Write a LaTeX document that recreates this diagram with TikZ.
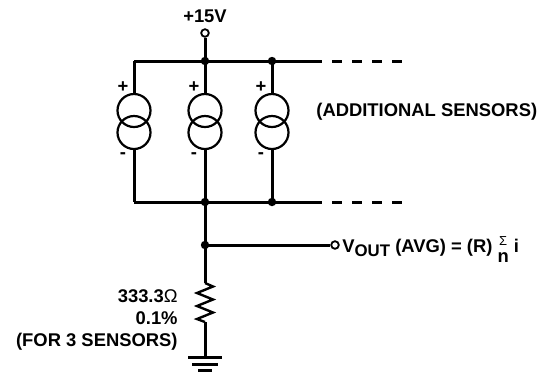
\documentclass[tikz,border=0pt]{standalone}
\usepackage{fontspec}
\setmainfont{Liberation Sans}
\usetikzlibrary{positioning}
\tikzset{>=stealth}
\tikzset{
	wire/.style={line width=1.5pt},
	srcring/.style={circle, draw, line width=1.1pt, minimum size=16.5pt, inner sep=0pt},
	term/.style={circle, draw, line width=0.9pt, fill=white, minimum size=3.8pt, inner sep=0pt},
	junc/.style={circle, fill, minimum size=4.2pt, inner sep=0pt},
	lbl/.style={font=\fontsize{9.2}{10.8}\selectfont\bfseries, inner sep=0pt}
}

\begin{document}
\begin{tikzpicture}[x=0.5pt,y=-0.5pt]
	\useasboundingbox (0,0) rectangle (547,372);
	% supply and busses
	\node[term] (vcc) at (205,33) {};
	\node[lbl] (vcclbl) at (205,16) {+15V};
	\coordinate (t1) at (134,61); \coordinate (t2) at (205,61); \coordinate (t3) at (272,61);
	\coordinate (b1) at (134,202); \coordinate (b2) at (205,202); \coordinate (b3) at (272,202);
	\coordinate (tend) at (322,61); \coordinate (tdash) at (402,61);
	\coordinate (bend) at (322,202); \coordinate (bdash) at (402,202);
	\draw[wire] (vcc) -- (t2);
	\draw[wire] (t1) -- (tend);
	\draw[wire] (b1) -- (bend);
	\draw[wire, dash pattern=on 5pt off 5pt, dash phase=5pt] (tend) -- (tdash);
	\draw[wire, dash pattern=on 5pt off 5pt, dash phase=5pt] (bend) -- (bdash);
	% current sources
	\foreach \n/\x in {1/134,2/205,3/272} {
		\node[srcring] (s\n a) at (\x,110.5) {};
		\node[srcring] (s\n b) at (\x,132.5) {};
		\draw[wire] (t\n) -- (s\n a.north);
		\draw[wire] (s\n b.south) -- (b\n);
		\node[lbl] (p\n) at (\x-11,87) {+};
		\node[lbl] (m\n) at (\x-11,156) {-};
	}
	\node[junc] at (t2) {}; \node[junc] at (t3) {};
	\node[junc] at (b2) {}; \node[junc] at (b3) {};
	\node[lbl, anchor=west] (addlbl) at (316,112) {(ADDITIONAL SENSORS)};
	% output
	\coordinate (out) at (205,245);
	\node[term] (vout) at (335,245) {};
	\draw[wire] (b2) -- (out);
	\draw[wire] (out) -- (vout);
	\node[junc] at (out) {};
	\node[lbl, anchor=base west] (voutlbl) at (342,252) {V\raisebox{-0.45ex}{\fontsize{8.4}{9}\selectfont OUT} (AVG) = (R) \raisebox{-1.1ex}{\shortstack{{\fontsize{6.5}{6.5}\selectfont\mdseries Σ}\\[0.15ex]n}} i};
	% resistor and ground
	\coordinate (rtop) at (205,283); \coordinate (rbot) at (205,322);
	\coordinate (gnd) at (205,357);
	\draw[wire] (out) -- (rtop);
	\draw[line width=1.2pt, line join=miter] (rtop) -- ++(8,3.5) -- ++(-16,6.5) -- ++(16,6.5) -- ++(-16,6.5) -- ++(16,6.5) -- ++(-16,6.5) -- (rbot);
	\draw[wire] (rbot) -- (gnd);
	\draw[wire] ([xshift=-8.5pt]gnd) -- ([xshift=8.5pt]gnd);
	\draw[wire] ([xshift=-6.5pt,yshift=-3.5pt]gnd) -- ([xshift=6.5pt,yshift=-3.5pt]gnd);
	\draw[wire] ([xshift=-3.5pt,yshift=-6.5pt]gnd) -- ([xshift=3.5pt,yshift=-6.5pt]gnd);
	\node[lbl, anchor=east, align=right] (rlbl) at (178,320) {333.3{\mdseries Ω}\\0.1\%\\(FOR 3 SENSORS)};
\end{tikzpicture}
\end{document}
